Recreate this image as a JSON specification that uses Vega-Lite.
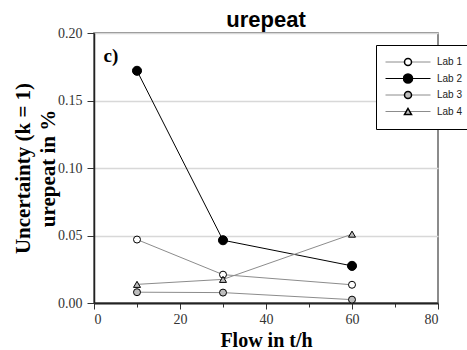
{
  "$schema": "https://vega.github.io/schema/vega-lite/v6.json",
  "width": 344,
  "height": 270,
  "autosize": {"type": "none"},
  "padding": {"left": 94, "top": 33, "right": 29, "bottom": 47},
  "background": "white",
  "datasets": {
    "labs": [
      {"lab": "Lab 1", "flow": 10, "u": 0.047},
      {"lab": "Lab 1", "flow": 30, "u": 0.021},
      {"lab": "Lab 1", "flow": 60, "u": 0.0135},
      {"lab": "Lab 2", "flow": 10, "u": 0.172},
      {"lab": "Lab 2", "flow": 30, "u": 0.0465},
      {"lab": "Lab 2", "flow": 60, "u": 0.0275},
      {"lab": "Lab 3", "flow": 10, "u": 0.008},
      {"lab": "Lab 3", "flow": 30, "u": 0.0077},
      {"lab": "Lab 3", "flow": 60, "u": 0.0025},
      {"lab": "Lab 4", "flow": 10, "u": 0.0138},
      {"lab": "Lab 4", "flow": 30, "u": 0.0175},
      {"lab": "Lab 4", "flow": 60, "u": 0.051}
    ],
    "panel": [{"x": 2.2, "y": 0.183, "t": "c)"}]
  },
  "title": {
    "text": "urepeat",
    "font": "Liberation Sans",
    "fontSize": 22,
    "fontWeight": "bold",
    "color": "black",
    "offset": -6,
    "anchor": "middle"
  },
  "config": {
    "view": {"stroke": "#666", "strokeWidth": 1.5},
    "axis": {
      "labelFont": "Liberation Serif",
      "labelFontSize": 14,
      "labelColor": "#333",
      "titleFont": "Liberation Serif",
      "titleFontSize": 20,
      "titleFontWeight": "bold",
      "titleColor": "black",
      "tickColor": "#333",
      "tickWidth": 1,
      "domainColor": "#222",
      "domainWidth": 1.5
    }
  },
  "layer": [
    {
      "data": {"name": "labs"},
      "mark": {"type": "line", "strokeWidth": 1},
      "encoding": {
        "x": {
          "field": "flow",
          "type": "quantitative",
          "scale": {"domain": [0, 80], "nice": false},
          "axis": {
            "title": "Flow in t/h",
            "values": [0, 10, 20, 30, 40, 50, 60, 70, 80],
            "labelExpr": "datum.value % 20 == 0 ? datum.label : ''",
            "tickSize": {"condition": {"test": "datum.value % 20 != 0", "value": 4}, "value": 6},
            "grid": false,
            "labelPadding": 3,
            "titlePadding": 4,
            "domainWidth": 2
          }
        },
        "y": {
          "field": "u",
          "type": "quantitative",
          "scale": {"domain": [0, 0.2], "nice": false},
          "axis": {
            "title": ["Uncertainty (k = 1)", "urepeat in %"],
            "titleFontSize": 21,
            "titleLineHeight": 25,
            "values": [0, 0.025, 0.05, 0.075, 0.1, 0.125, 0.15, 0.175, 0.2],
            "labelExpr": "round(datum.value*40) % 2 == 1 ? '' : format(datum.value, '.2f')",
            "tickSize": {"condition": {"test": "round(datum.value*40) % 2 == 1", "value": 4}, "value": 7},
            "grid": true,
            "gridColor": "#d8d8d8",
            "gridWidth": 1.5,
            "gridOpacity": {"condition": {"test": "round(datum.value*40) % 2 == 1", "value": 0}, "value": 1},
            "labelPadding": 5,
            "titlePadding": -1
          }
        },
        "stroke": {
          "field": "lab",
          "type": "nominal",
          "scale": {
            "domain": ["Lab 1", "Lab 2", "Lab 3", "Lab 4"],
            "range": ["#8c8c8c", "#000000", "#8c8c8c", "#8c8c8c"]
          },
          "legend": {
            "title": null,
            "orient": "none",
            "direction": "vertical",
            "legendX": 282,
            "legendY": 12,
            "padding": 9,
            "fillColor": "white",
            "strokeColor": "black",
            "symbolType": "M-1,0H1",
            "symbolSize": 2025,
            "symbolStrokeWidth": 1,
            "symbolFillColor": "transparent",
            "clipHeight": 16,
            "rowPadding": 0.5,
            "labelFont": "Liberation Sans",
            "labelFontSize": 10,
            "labelColor": "#222",
            "labelOffset": 6,
            "zindex": 0
          }
        }
      }
    },
    {
      "data": {"name": "labs"},
      "mark": {"type": "point", "filled": true, "stroke": "black", "strokeWidth": 1, "size": 49, "opacity": 1},
      "encoding": {
        "x": {"field": "flow", "type": "quantitative"},
        "y": {"field": "u", "type": "quantitative"},
        "fill": {
          "field": "lab",
          "type": "nominal",
          "scale": {"range": ["#ffffff", "#000000", "#bdbdbd", "#bdbdbd"]},
          "legend": {
            "title": null,
            "orient": "none",
            "direction": "vertical",
            "legendX": 300,
            "legendY": 12,
            "padding": 9,
            "symbolSize": 49,
            "clipHeight": 16,
            "rowPadding": 0.5,
            "labelFont": "Liberation Sans",
            "labelFontSize": 10,
            "labelExpr": "''",
            "labelOpacity": 0,
            "labelOffset": 5,
            "zindex": 1,
            "encode": {
              "symbols": {
                "update": {
                  "stroke": {"value": "black"},
                  "strokeWidth": {"value": 1},
                  "opacity": {"value": 1}
                }
              }
            }
          }
        },
        "shape": {
          "field": "lab",
          "type": "nominal",
          "scale": {
            "range": [
              "circle",
              "M1.3,0A1.3,1.3 0 1,1 -1.3,0A1.3,1.3 0 1,1 1.3,0Z",
              "circle",
              "triangle-up"
            ]
          },
          "legend": {
            "title": null,
            "orient": "none",
            "direction": "vertical",
            "legendX": 300,
            "legendY": 12,
            "padding": 9,
            "symbolSize": 49,
            "clipHeight": 16,
            "rowPadding": 0.5,
            "labelFont": "Liberation Sans",
            "labelFontSize": 10,
            "labelExpr": "''",
            "labelOpacity": 0,
            "labelOffset": 5,
            "zindex": 1
          }
        }
      }
    },
    {
      "data": {"name": "panel"},
      "mark": {"type": "text", "font": "Liberation Serif", "fontSize": 19, "fontWeight": "bold", "align": "left", "baseline": "middle", "color": "black"},
      "encoding": {
        "x": {"field": "x", "type": "quantitative"},
        "y": {"field": "y", "type": "quantitative"},
        "text": {"field": "t"}
      }
    }
  ]
}
